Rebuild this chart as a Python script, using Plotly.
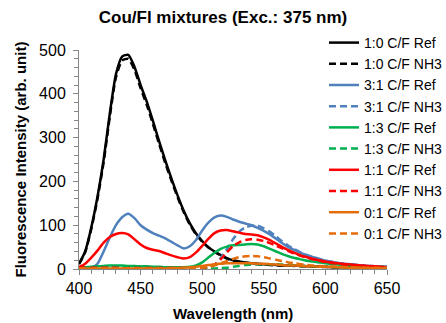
import plotly.graph_objects as go

# Wavelength grid (nm)
wl = [400, 405, 410, 415, 420, 425, 430, 435, 440, 445, 450, 455, 460, 465, 470, 475,
      480, 485, 490, 495, 500, 505, 510, 515, 520, 525, 530, 535, 540, 545, 550, 555,
      560, 565, 570, 575, 580, 585, 590, 595, 600, 610, 620, 630, 640, 650]

# 1:0 C/F
cf10_ref = [12, 40, 95, 165, 250, 355, 445, 485, 489, 462, 420, 382, 338, 292, 248, 207,
            168, 133, 104, 81, 64, 50, 40, 32, 25, 20, 17, 15, 13, 12, 11, 10,
            9, 8.5, 8, 7.5, 7, 6.5, 6, 5.5, 5, 4, 4, 3, 3, 3]
cf10_nh3 = [11, 38, 92, 160, 244, 348, 438, 476, 480, 455, 413, 375, 331, 286, 242, 202,
            164, 130, 101, 79, 62, 49, 39, 31, 24, 19, 16, 14, 12, 11, 10, 9,
            8.5, 8, 7.5, 7, 6.5, 6, 5.5, 5, 4.5, 4, 3.5, 3, 3, 2.5]
# 3:1 C/F
cf31_ref = [2, 2, 3, 12, 40, 72, 100, 118, 126, 116, 100, 90, 82, 76, 70, 62,
            54, 47, 52, 66, 88, 106, 118, 122, 119, 113, 108, 104, 100, 94, 87, 79,
            69, 59, 50, 43, 37, 31, 27, 23, 19, 14, 11, 8, 6, 5]
cf31_nh3 = [1, 1, 2, 2, 3, 3, 4, 4, 4, 4, 3, 3, 3, 3, 2, 2,
            2, 2, 2, 2, 3, 5, 10, 25, 45, 68, 85, 95, 99, 99, 93, 85,
            74, 63, 53, 45, 38, 32, 27, 23, 19, 14, 11, 8, 6, 5]
# 1:3 C/F
cf13_ref = [3, 4, 5, 6, 7, 8, 8, 8, 7, 7, 6, 6, 5, 5, 4, 4,
            4, 4, 5, 8, 15, 26, 37, 46, 51, 54, 55, 56, 57, 56, 52, 46,
            40, 34, 29, 25, 22, 19, 17, 15, 13, 10, 8, 6, 5, 4]
cf13_nh3 = [1, 1, 1, 1, 1, 1, 1, 1, 1, 1, 1, 1, 1, 1, 1, 1,
            1, 1, 1, 1, 1, 1, 1, 2, 3, 5, 7, 9, 10, 11, 11, 11,
            11, 10, 9, 8, 7, 7, 6, 5, 5, 4, 3, 3, 2, 2]
# 1:1 C/F
cf11_ref = [4, 12, 26, 42, 60, 73, 80, 82, 79, 68, 56, 48, 44, 41, 36, 31,
            27, 24, 27, 38, 53, 69, 82, 88, 89, 86, 83, 80, 79, 77, 72, 66,
            58, 50, 43, 37, 31, 27, 23, 20, 17, 13, 10, 8, 6, 4]
cf11_nh3 = [3, 3, 3, 3, 3, 3, 3, 2, 2, 2, 2, 2, 2, 2, 2, 2,
            2, 2, 2, 2, 3, 5, 10, 22, 38, 52, 61, 66, 68, 67, 64, 59,
            53, 47, 41, 35, 30, 26, 22, 19, 16, 12, 9, 7, 5, 4]
# 0:1 C/F
cf01_ref = [1, 1, 1, 1, 1, 1, 1, 1, 1, 1, 1, 1, 1, 1, 1, 2,
            2, 3, 4, 5, 7, 9, 11, 12, 13, 13, 13, 13, 13, 12, 12, 11,
            10, 9, 8, 8, 7, 6, 6, 5, 5, 4, 3, 3, 2, 2]
cf01_nh3 = [1, 1, 1, 1, 1, 1, 1, 1, 1, 1, 1, 1, 1, 1, 1, 1,
            1, 1, 1, 2, 3, 5, 8, 13, 18, 23, 27, 29, 30, 29, 27, 24,
            21, 18, 15, 13, 11, 9, 8, 7, 6, 5, 4, 3, 3, 3]

names = ["1:0 C/F Ref", "1:0 C/F NH3", "3:1 C/F Ref", "3:1 C/F NH3",
         "1:3 C/F Ref", "1:3 C/F NH3", "1:1 C/F Ref", "1:1 C/F NH3",
         "0:1 C/F Ref", "0:1 C/F NH3"]
series = [cf10_ref, cf10_nh3, cf31_ref, cf31_nh3, cf13_ref, cf13_nh3,
          cf11_ref, cf11_nh3, cf01_ref, cf01_nh3]
colors = ["#000000", "#000000", "#4F81BD", "#4F81BD", "#00B050", "#00B050",
          "#FF0000", "#FF0000", "#E46C0A", "#E46C0A"]
dashes = ["solid", "7px,4px"] * 5

x_ticks = [400, 450, 500, 550, 600, 650]
y_ticks = [0, 100, 200, 300, 400, 500]

fig = go.Figure()
for n, s, c, d in zip(names, series, colors, dashes):
    fig.add_trace(go.Scatter(x=wl, y=s, mode="lines", name=n,
                             line=dict(color=c, width=2.5, dash=d, shape="spline", smoothing=0.6)))

FONT = "Liberation Sans, Arial, sans-serif"
W, H = 446, 323
L, R, T, B = 79, 59, 50, 54
PW, PH = W - L - R, H - T - B
tick_font = dict(family=FONT, size=16, color="#000000")

fig.update_layout(
    width=W, height=H,
    margin=dict(l=L, r=R, t=T, b=B, autoexpand=False),
    paper_bgcolor="white", plot_bgcolor="white",
    font=dict(family=FONT, color="#000000"),
    title=dict(text="<b>Cou/Fl mixtures (Exc.: 375 nm)</b>",
               font=dict(family=FONT, size=17, color="#000000"),
               x=0.5, xref="container", xanchor="center",
               y=1 - 17.5 / H, yref="container", yanchor="middle"),
    showlegend=True,
    legend=dict(x=(324 - L) / PW, xanchor="left", y=(H - B - 27) / PH, yanchor="top",
                bgcolor="rgba(0,0,0,0)", borderwidth=0, maxheight=290,
                font=dict(family=FONT, size=14, color="#000000"),
                tracegroupgap=0),
    xaxis=dict(range=[400, 650], tickvals=x_ticks,
               showgrid=False, zeroline=False, showline=True, linecolor="#868686", linewidth=1,
               ticks="outside", ticklen=5, tickcolor="#868686", tickfont=tick_font,
               minor=dict(dtick=10, ticks="outside", ticklen=4, tickcolor="#868686", showgrid=False)),
    yaxis=dict(range=[0, 500], tickvals=y_ticks,
               showgrid=False, zeroline=False, showline=True, linecolor="#868686", linewidth=1,
               ticks="outside", ticklen=5, tickcolor="#868686", tickfont=tick_font,
               ticklabelstandoff=4,
               minor=dict(dtick=20, ticks="outside", ticklen=4, tickcolor="#868686", showgrid=False)),
    annotations=[
        dict(text="<b>Wavelength (nm)</b>", xref="paper", yref="paper",
             x=0.5, y=-(313 - (H - B)) / PH, xanchor="center", yanchor="middle",
             showarrow=False, font=dict(family=FONT, size=15, color="#000000")),
        dict(text="<b>Fluorescence Intensity (arb. unit)</b>", xref="paper", yref="paper",
             x=(20 - L) / PW, y=0.5, xanchor="center", yanchor="middle", textangle=-90,
             showarrow=False, font=dict(family=FONT, size=15, color="#000000")),
    ],
)

fig.write_html("out.html", config={"displayModeBar": False},
               post_script="document.body.style.margin='0';document.body.style.padding='0';")
